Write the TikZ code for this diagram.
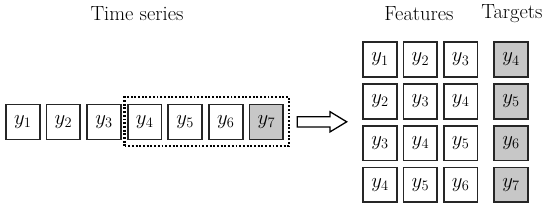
\documentclass[tikz,border=0pt]{standalone}
\usetikzlibrary{fit}
\begin{document}
\begin{tikzpicture}[x=1pt,y=-1pt,
  cell/.style={draw=black!85,line width=1.7pt,fill=white,minimum width=33.8pt,minimum height=34.8pt,inner sep=0pt,font=\fontsize{21}{24}\selectfont},
  tcell/.style={cell,fill=black!22},
  lbl/.style={font=\fontsize{20.5}{24}\selectfont,inner sep=0pt},
  win/.style={draw,dash pattern=on 1.9pt off 1.8pt,line width=2.2pt,inner sep=0pt}]
\useasboundingbox (0,0) rectangle (550,209);
% left series
\foreach \i in {1,...,6}{
  \node[cell] (s\i) at ({22.8+40.6*(\i-1)},122) {$y_{\i}$};
}
\node[tcell] (s7) at ({22.8+40.6*6},122) {$y_{7}$};
\node[lbl] (ts) at (137,13.5) {Time series};
\node[win,fit={(124.5,97)(289,146)}] (w) {};
% arrow
\coordinate (a0) at (297.3,116.7);
\coordinate (a1) at (330,116.7);
\coordinate (a2) at (330,111.7);
\coordinate (a3) at (346.7,121.8);
\coordinate (a4) at (330,131.9);
\coordinate (a5) at (330,126.9);
\coordinate (a6) at (297.3,126.9);
\draw[line width=1.3pt,line join=miter,fill=white] (a0) -- (a1) -- (a2) -- (a3) -- (a4) -- (a5) -- (a6) -- cycle;
% right grid
\foreach \r in {1,...,4}{
  \foreach \c in {1,2,3}{
    \pgfmathtruncatemacro{\k}{\r+\c-1}
    \node[cell] (f\r\c) at ({380+40.35*(\c-1)},{59.5+41.8*(\r-1)}) {$y_{\k}$};
  }
  \pgfmathtruncatemacro{\t}{\r+3}
  \node[tcell] (t\r) at (511,{59.5+41.8*(\r-1)}) {$y_{\t}$};
}
\node[lbl] (fl) at (419,13.5) {Features};
\node[lbl] (tl) at (512,13.5) {Targets};
\end{tikzpicture}
\end{document}
